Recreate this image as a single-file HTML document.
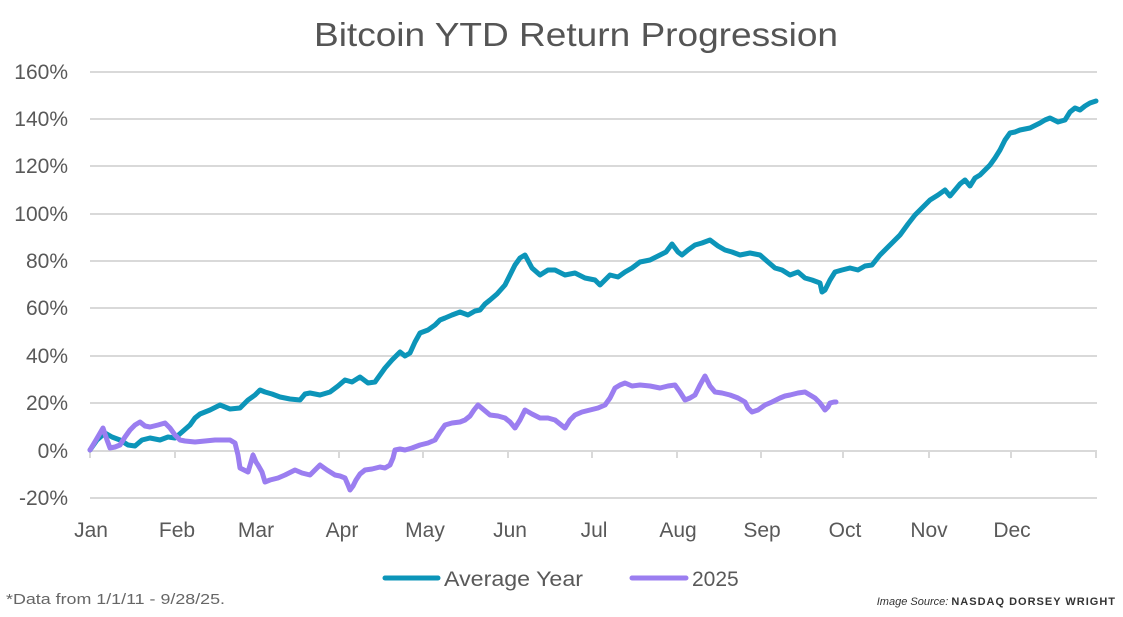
<!DOCTYPE html>
<html><head><meta charset="utf-8"><style>
body{margin:0;background:#fff;width:1123px;height:612px;overflow:hidden;font-family:"Liberation Sans",sans-serif}
</style></head><body>
<svg width="1123" height="612" viewBox="0 0 1123 612" xmlns="http://www.w3.org/2000/svg" font-family="Liberation Sans, sans-serif">
<text x="314" y="46" font-size="33" fill="#555" textLength="524" lengthAdjust="spacingAndGlyphs">Bitcoin YTD Return Progression</text>
<g stroke="#d9d9d9" stroke-width="2">
<line x1="90" x2="1097" y1="72" y2="72"/><line x1="90" x2="1097" y1="119" y2="119"/>
<line x1="90" x2="1097" y1="166" y2="166"/><line x1="90" x2="1097" y1="214" y2="214"/>
<line x1="90" x2="1097" y1="261" y2="261"/><line x1="90" x2="1097" y1="308" y2="308"/>
<line x1="90" x2="1097" y1="356" y2="356"/><line x1="90" x2="1097" y1="403" y2="403"/>
<line x1="90" x2="1097" y1="451" y2="451"/><line x1="90" x2="1097" y1="498" y2="498"/>
<path d="M90 451v7M175 451v7M253 451v7M339 451v7M423 451v7M508 451v7M592 451v7M677 451v7M761 451v7M843 451v7M929 451v7M1011 451v7M1096 451v7"/>
</g>
<g font-size="21" fill="#595959" text-anchor="end">
<text x="68" y="79">160%</text><text x="68" y="126">140%</text><text x="68" y="173">120%</text>
<text x="68" y="221">100%</text><text x="68" y="268">80%</text><text x="68" y="315">60%</text>
<text x="68" y="363">40%</text><text x="68" y="410">20%</text><text x="68" y="458">0%</text><text x="68" y="505">-20%</text>
</g>
<g font-size="21" fill="#595959" text-anchor="middle">
<text x="91" y="537">Jan</text><text x="177" y="537">Feb</text><text x="256" y="537">Mar</text>
<text x="342" y="537">Apr</text><text x="425" y="537">May</text><text x="510" y="537">Jun</text>
<text x="594" y="537">Jul</text><text x="678" y="537">Aug</text><text x="762" y="537">Sep</text>
<text x="845" y="537">Oct</text><text x="929" y="537">Nov</text><text x="1012" y="537">Dec</text>
</g>
<polyline fill="none" stroke="#0c95b9" stroke-width="5" stroke-linejoin="round" stroke-linecap="round" points="90,450 97,440 105,433 112,437 120,440 128,445 135,446 142,440 150,438 160,440 168,437 175,438 182,432 190,425 195,418 200,414 210,410 220,405 230,409 240,408 248,400 255,395 260,390 265,392 272,394 280,397 290,399 300,400 305,394 310,393 320,395 330,392 338,386 345,380 352,382 360,377 368,383 375,382 380,375 385,368 392,360 400,352 405,356 410,353 415,342 420,333 428,330 435,325 440,320 445,318 452,315 460,312 468,315 475,311 480,310 485,304 490,300 497,294 505,285 510,275 515,265 520,258 525,255 532,268 540,275 548,270 555,270 565,275 575,273 585,278 595,280 600,285 610,275 618,277 625,272 632,268 640,262 650,260 660,255 666,252 672,244 678,252 682,255 688,250 695,245 702,243 710,240 718,246 725,250 732,252 740,255 750,253 760,255 768,262 775,268 782,270 790,275 798,272 805,278 812,280 820,283 822,292 825,290 830,280 835,272 842,270 850,268 858,270 865,266 872,265 880,255 885,250 890,245 895,240 900,235 908,224 915,215 922,208 930,200 938,195 945,190 950,196 955,190 960,184 965,180 970,186 975,178 980,175 985,170 990,165 995,158 1000,150 1005,140 1010,133 1015,132 1020,130 1030,128 1040,123 1045,120 1050,118 1058,122 1065,120 1070,112 1075,108 1080,110 1085,106 1090,103 1096,101"/>
<polyline fill="none" stroke="#9b7ef0" stroke-width="5" stroke-linejoin="round" stroke-linecap="round" points="90,450 96,440 103,428 107,440 110,448 115,447 120,445 125,437 130,430 135,425 140,422 145,426 150,427 158,425 165,423 170,428 175,435 180,440 185,441 195,442 205,441 215,440 225,440 230,440 235,443 238,455 240,468 244,470 248,472 251,462 253,455 256,462 258,465 262,472 265,482 270,480 278,478 285,475 295,470 302,473 310,475 315,470 320,465 327,470 335,475 340,476 345,478 348,485 350,490 353,486 356,480 360,474 365,470 372,469 380,467 385,468 390,465 393,458 395,450 400,449 405,450 412,448 420,445 428,443 435,440 440,432 445,425 452,423 460,422 465,420 470,416 474,410 478,405 484,410 490,415 498,416 505,418 510,422 515,428 520,420 525,410 532,414 540,418 548,418 555,420 560,424 565,428 570,420 575,415 582,412 590,410 598,408 605,405 610,398 615,388 620,385 625,383 632,386 640,385 650,386 660,388 668,386 675,385 680,392 685,400 690,398 695,395 700,385 705,376 710,386 715,392 722,393 730,395 738,398 745,402 748,408 752,412 758,410 765,405 772,402 780,398 785,396 790,395 798,393 805,392 810,395 815,398 820,403 825,410 828,407 830,403 834,402 836,402"/>
<line x1="385" x2="438" y1="578" y2="578" stroke="#0c95b9" stroke-width="5" stroke-linecap="round"/>
<text x="444" y="586" font-size="21" fill="#595959" textLength="139" lengthAdjust="spacingAndGlyphs">Average Year</text>
<line x1="632" x2="686" y1="578" y2="578" stroke="#9b7ef0" stroke-width="5" stroke-linecap="round"/>
<text x="692" y="586" font-size="21" fill="#595959">2025</text>
<text x="6" y="604" font-size="15" fill="#666" textLength="219" lengthAdjust="spacingAndGlyphs">*Data from 1/1/11 - 9/28/25.</text>
<text x="1116" y="605" font-size="11" fill="#333" text-anchor="end"><tspan font-style="italic">Image Source:</tspan> <tspan font-weight="bold" letter-spacing="1">NASDAQ DORSEY WRIGHT</tspan></text>
</svg>
</body></html>
